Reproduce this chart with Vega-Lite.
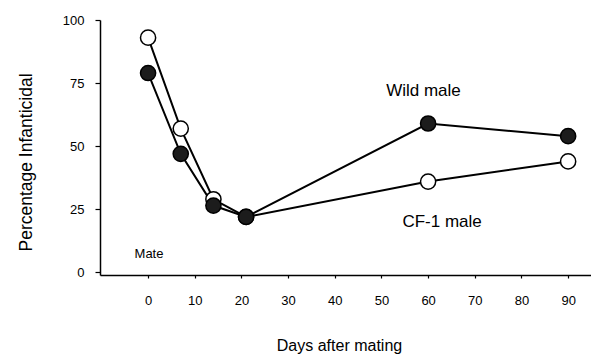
{
  "$schema": "https://vega.github.io/schema/vega-lite/v6.json",
  "width": 491,
  "height": 255,
  "autosize": "none",
  "padding": {"left": 100, "top": 20, "right": 0, "bottom": 80},
  "background": "white",
  "config": {
    "view": {"stroke": null},
    "font": "Liberation Sans",
    "axis": {"grid": false, "domainColor": "black", "tickColor": "black", "domainWidth": 1.5, "tickWidth": 1.2, "labelColor": "black", "titleColor": "black", "labelFont": "Liberation Sans", "titleFont": "Liberation Sans", "titleFontWeight": "normal"}
  },
  "datasets": {
    "series": [
      {"day": 0, "pct": 93, "group": "CF-1 male"},
      {"day": 7, "pct": 57, "group": "CF-1 male"},
      {"day": 14, "pct": 29, "group": "CF-1 male"},
      {"day": 21, "pct": 22, "group": "CF-1 male"},
      {"day": 60, "pct": 36, "group": "CF-1 male"},
      {"day": 90, "pct": 44, "group": "CF-1 male"},
      {"day": 0, "pct": 79, "group": "Wild male"},
      {"day": 7, "pct": 47, "group": "Wild male"},
      {"day": 14, "pct": 26.5, "group": "Wild male"},
      {"day": 21, "pct": 22, "group": "Wild male"},
      {"day": 60, "pct": 59, "group": "Wild male"},
      {"day": 90, "pct": 54, "group": "Wild male"}
    ],
    "labels": [
      {"label": "Wild male", "day": 59, "pct": 72, "size": "big"},
      {"label": "CF-1 male", "day": 63, "pct": 20, "size": "big"},
      {"label": "Mate", "day": 0.2, "pct": 7.5, "size": "small"}
    ]
  },
  "layer": [
    {
      "data": {"name": "series"},
      "mark": {"type": "line", "color": "black", "strokeWidth": 2},
      "encoding": {
        "x": {"field": "day", "type": "quantitative", "scale": {"domain": [-10.3, 94.9], "nice": false, "zero": false}, "axis": {"values": [0, 10, 20, 30, 40, 50, 60, 70, 80, 90], "title": "Days after mating", "labelFontSize": 13, "titleFontSize": 16, "tickSize": 3, "labelPadding": 16, "titleX": 239, "titleY": 75, "titleBaseline": "alphabetic", "titleAnchor": null}},
        "y": {"field": "pct", "type": "quantitative", "scale": {"domain": [-1, 100], "nice": false, "zero": false}, "axis": {"values": [0, 25, 50, 75, 100], "title": "Percentage Infanticidal", "labelFontSize": 13, "titleFontSize": 17.5, "tickSize": 5, "labelPadding": 11, "titleX": -74, "titleY": 142, "titleAngle": -90, "titleBaseline": "middle", "titleAlign": "center"}},
        "detail": {"field": "group"}
      }
    },
    {
      "data": {"name": "series"},
      "mark": {"type": "point", "filled": true, "stroke": "black", "strokeWidth": 1.5, "size": 230, "opacity": 1},
      "encoding": {
        "x": {"field": "day", "type": "quantitative"},
        "y": {"field": "pct", "type": "quantitative"},
        "fill": {"field": "group", "type": "nominal", "scale": {"domain": ["CF-1 male", "Wild male"], "range": ["white", "#1c1c1c"]}, "legend": null}
      }
    },
    {
      "data": {"name": "labels"},
      "mark": {"type": "text", "color": "black", "align": "center", "baseline": "middle"},
      "encoding": {
        "x": {"field": "day", "type": "quantitative"},
        "y": {"field": "pct", "type": "quantitative"},
        "text": {"field": "label"},
        "size": {"field": "size", "type": "nominal", "scale": {"domain": ["big", "small"], "range": [17, 13]}, "legend": null}
      }
    },
    {
      "mark": {"type": "rule", "color": "black", "strokeWidth": 1.3},
      "encoding": {
        "x": {"datum": 0, "type": "quantitative"},
        "y": {"datum": -4, "type": "quantitative"},
        "y2": {"datum": 2.5}
      }
    }
  ]
}
